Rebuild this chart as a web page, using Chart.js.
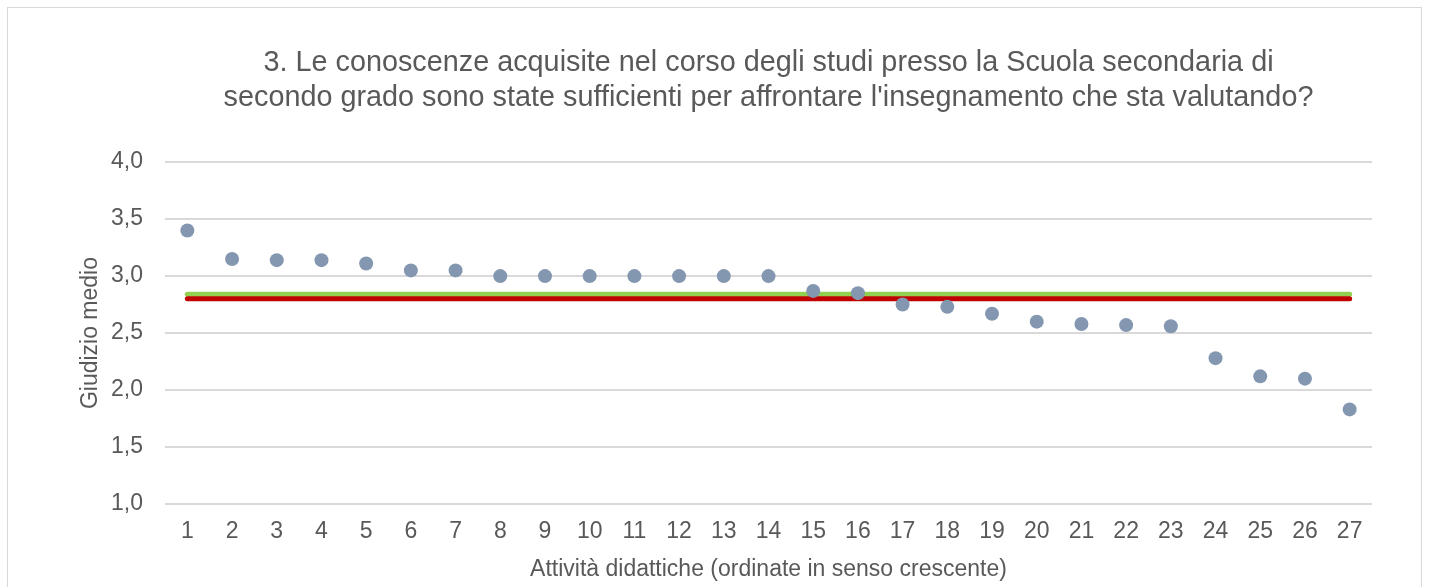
<!DOCTYPE html>
<html>
<head>
<meta charset="utf-8">
<script src="https://cdn.jsdelivr.net/npm/chart.js@4.4.1/dist/chart.umd.min.js"></script>
<style>
  html, body { margin: 0; padding: 0; background: #fff; overflow: hidden; }
  #box {
    position: absolute; left: 7px; top: 7px;
    width: 1413px; height: 600px;
    border: 1px solid #d9d9d9; background: #fff;
  }
  #wrap { position: relative; width: 1413px; height: 585px; }
</style>
</head>
<body>
<div id="box"><div id="wrap"><canvas id="scatter-chart"></canvas></div></div>
<script>
// categorie (attività ordinate)
var categories = ["1","2","3","4","5","6","7","8","9","10","11","12","13","14",
                  "15","16","17","18","19","20","21","22","23","24","25","26","27"];

// giudizio medio per attività
var giudizi = [3.40, 3.15, 3.14, 3.14, 3.11, 3.05, 3.05, 3.00, 3.00, 3.00, 3.00, 3.00, 3.00, 3.00,
               2.87, 2.85, 2.75, 2.73, 2.67, 2.60, 2.58, 2.57, 2.56, 2.28, 2.12, 2.10, 1.83];

// linee di riferimento (inizio e fine)
var mediaVerde = [{x: "1", y: 2.84}, {x: "27", y: 2.84}];
var mediaRossa = [{x: "1", y: 2.80}, {x: "27", y: 2.80}];

var yMin = 1, yMax = 4, yStep = 0.5;

var grey = "#595959";
var font = "'Liberation Sans', Arial, sans-serif";

new Chart(document.getElementById("scatter-chart"), {
    type: 'line',
    data: {
      labels: categories,
      datasets: [{
          data: giudizi,
          showLine: false,
          pointRadius: 7,
          pointHoverRadius: 7,
          pointBorderWidth: 0,
          pointBackgroundColor: "#8497b0",
          borderColor: "#8497b0"
        }, {
          data: mediaRossa,
          borderColor: "#c00000",
          borderWidth: 5,
          borderCapStyle: 'round',
          pointRadius: 0,
          fill: false
        }, {
          data: mediaVerde,
          borderColor: "#92d050",
          borderWidth: 5,
          borderCapStyle: 'round',
          pointRadius: 0,
          fill: false
        }
      ]
    },
    options: {
      responsive: true,
      maintainAspectRatio: false,
      animation: false,
      layout: { padding: { left: 61, right: 49, top: 0, bottom: 6 } },
      plugins: {
        legend: { display: false },
        tooltip: { enabled: false },
        title: {
          display: true,
          fullSize: false,
          text: ["3. Le conoscenze acquisite nel corso degli studi presso la Scuola secondaria di",
                 "secondo grado sono state sufficienti per affrontare l'insegnamento che sta valutando?"],
          color: grey,
          font: { family: font, size: 28.8, weight: 'normal', lineHeight: 1.2 },
          padding: { top: 38, bottom: 47 }
        }
      },
      scales: {
        x: {
          offset: true,
          grid: { display: false, drawTicks: false },
          border: { display: false },
          ticks: { color: grey, padding: 14, maxRotation: 0, autoSkip: false,
                   font: { family: font, size: 23 } },
          title: { display: true, text: "Attività didattiche (ordinate in senso crescente)",
                   color: grey, padding: { top: 11, bottom: 4 },
                   font: { family: font, size: 23 } },
          afterFit: function(scale) { scale.height = 83; }
        },
        y: {
          min: yMin,
          max: yMax,
          grid: { color: "#d9d9d9", lineWidth: 2, drawTicks: false },
          border: { display: false },
          ticks: { stepSize: yStep, color: grey, padding: 22,
                   font: { family: font, size: 23 },
                   callback: function(v) { return v.toFixed(1).replace('.', ','); } },
          title: { display: true, text: "Giudizio medio", color: grey,
                   padding: { top: 8, bottom: 0 },
                   font: { family: font, size: 23 } },
          afterFit: function(scale) { scale.width = 96; }
        }
      }
    }
});
</script>
</body>
</html>
